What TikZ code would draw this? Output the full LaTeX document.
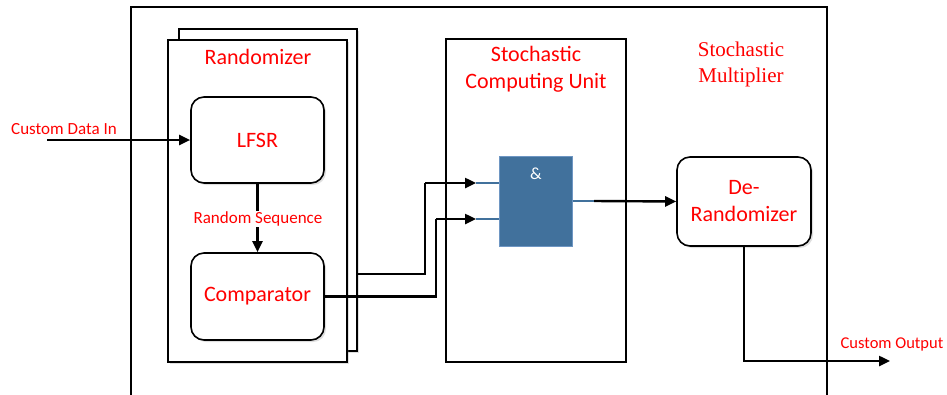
\documentclass[tikz,border=0pt]{standalone}
\usepackage{fontspec}
\setmainfont{Carlito}
\newfontfamily\timesfont{Liberation Serif}
\usepackage{tikz}
\usetikzlibrary{arrows.meta, positioning, shadows, calc}

\definecolor{gateblue}{RGB}{65,113,156}
\definecolor{gateedge}{RGB}{110,150,195}

\begin{document}
\begin{tikzpicture}[x=1pt, y=-1pt,
  frame/.style={draw, line width=1.7pt, fill=white, rectangle, inner sep=0pt},
  shbox/.style={frame, drop shadow={shadow xshift=2pt, shadow yshift=-2pt, opacity=0.25}},
  unit/.style={shbox, rounded corners=13pt, line width=1.6pt},
  lbl/.style={text=red, font=\fontsize{22}{27}\selectfont, align=center},
  small/.style={text=red, font=\fontsize{17}{20}\selectfont},
  arr/.style={line width=2.4pt, -{Triangle[length=11pt, width=10pt]}},
  wire/.style={line width=2.4pt},
  stub/.style={gateblue, line width=1.3pt}]

\clip (0,0) rectangle (947,394);

% --- Multiplier frame (runs past the bottom) ---
\draw[line width=1.7pt] (131,430) -- (131,7) -- (827,7) -- (827,430);
\node[font=\timesfont\fontsize{21}{26}\selectfont, text=red, align=center] (multlbl) at (741,64) {Stochastic\\Multiplier};

% --- Randomizer stack ---
\node[shbox, minimum width=178pt, minimum height=322pt] (rndback) at (268,190) {};
\node[shbox, minimum width=179pt, minimum height=322pt] (rnd) at (257.5,201) {};
\node[lbl] (rndlbl) at (258,57) {Randomizer};

\node[unit, minimum width=133pt, minimum height=86pt, lbl] (lfsr) at (257.5,140) {LFSR};
\node[unit, minimum width=133pt, minimum height=87pt, lbl] (cmp) at (257.5,296.5) {Comparator};

% --- Stochastic computing unit ---
\node[frame, minimum width=180pt, minimum height=323pt] (scu) at (536,200.5) {};
\node[lbl] (sculbl) at (536,69) {Stochastic\\Computing Unit};
\node[draw=gateedge, fill=gateblue, line width=1pt, minimum width=73pt, minimum height=90pt, inner sep=0pt] (gate) at (535.5,201) {};
\node[text=white, font=\fontsize{17}{20}\selectfont] (andlbl) at (536,174) {\&};

% --- De-randomizer ---
\node[unit, minimum width=134pt, minimum height=89pt, lbl] (derand) at (744,201.5) {De-\\Randomizer};

% --- Connection points ---
\coordinate (datain) at (47,140);
\coordinate (r1) at (357,274);
\coordinate (b1) at (425,183);
\coordinate (b2) at (436,219);
\coordinate (in1) at (476,183);
\coordinate (in2) at (476,219);
\coordinate (out1) at (594,201);
\coordinate (dataout) at (890,361);

% --- Signals ---
\draw[arr] (datain) -- (lfsr.west);
\node[small] (dinlbl) at (64,129) {Custom Data In};

\draw[arr] (lfsr.south) -- (cmp.north);
\node[small, fill=white, inner sep=1pt] (seqlbl) at (258,219) {Random Sequence};

\draw[stub] (in1) -- (in1 -| gate.west);
\draw[stub] (in2) -- (in2 -| gate.west);
\draw[wire] (r1) -| (b1);
\draw[arr] (b1) -- (in1);
\draw[wire] (cmp.east) -| (b2);
\draw[arr] (b2) -- (in2);

\draw[stub] (gate.east) -- (out1);
\draw[arr] (out1) -- (derand.west);

\draw[arr] (derand.south) |- (dataout);
\node[small, font=\fontsize{16.5}{19}\selectfont] (doutlbl) at (892,344) {Custom Output};

\end{tikzpicture}
\end{document}
